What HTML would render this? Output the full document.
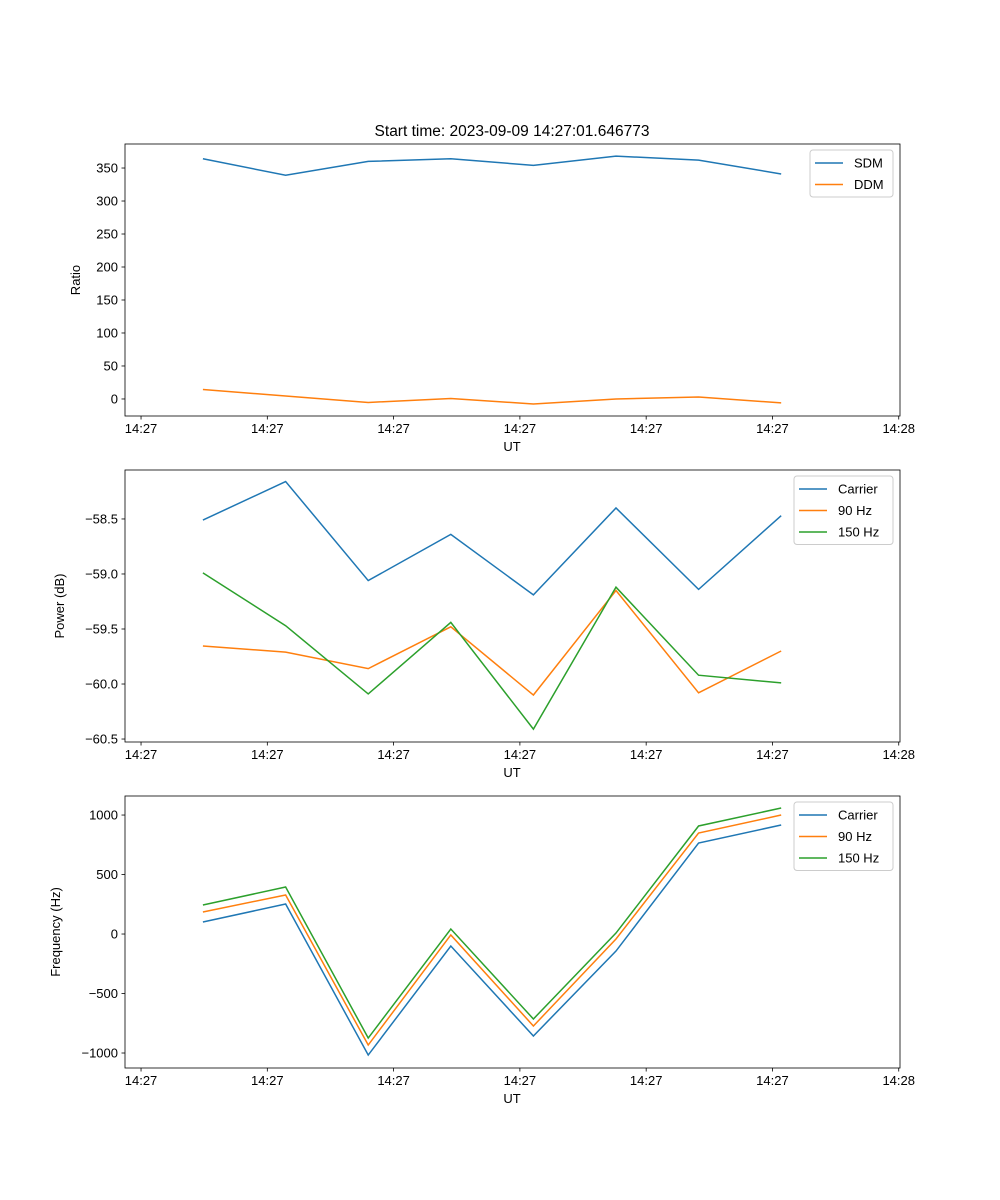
<!DOCTYPE html>
<html><head><meta charset="utf-8"><style>
body{margin:0;background:#fff}
svg{display:block;font-family:"Liberation Sans","DejaVu Sans",sans-serif}
</style></head><body>
<svg id="c" width="1000" height="1200" viewBox="0 0 1000 1200">
<rect width="1000" height="1200" fill="#fff"/>
<text x="512" y="136" font-size="15.5" text-anchor="middle">Start time: 2023-09-09 14:27:01.646773</text>
</svg>
<script>
// time offsets (s after 14:27:00)
const times=[4.9,11.45,17.99,24.53,31.07,37.61,44.15,50.69];
const xTickVals=[0,10,20,30,40,50,60];
const xTickLabels=["14:27","14:27","14:27","14:27","14:27","14:27","14:28"];
const sdm=[364,339,360,364,354,368,362,341];
const ddm=[14.4,4.5,-5.3,0.8,-7.6,0,3,-6];
const ratioTicks=[0,50,100,150,200,250,300,350];
const pCarrier=[-58.51,-58.16,-59.06,-58.64,-59.19,-58.40,-59.14,-58.47];
const p90=[-59.655,-59.71,-59.86,-59.48,-60.10,-59.15,-60.08,-59.70];
const p150=[-58.99,-59.47,-60.09,-59.44,-60.41,-59.12,-59.92,-59.99];
const powerTicks=[-58.5,-59.0,-59.5,-60.0,-60.5];
const fCarrier=[101,252,-1017,-101,-857,-143,765,916];
const f90=[185,328,-933,-8,-773,-42,849,1000];
const f150=[244,395,-874,42,-714,8,908,1059];
const freqTicks=[1000,500,0,-500,-1000];

const svg=document.getElementById('c');
const NS='http://www.w3.org/2000/svg';
function mk(t,a){const e=document.createElementNS(NS,t);for(const k in a)e.setAttribute(k,a[k]);svg.appendChild(e);return e;}
const L=125,R=900,xmin=-1.27,xmax=60.1;
const xs=v=>L+(v-xmin)/(xmax-xmin)*(R-L);
const C=['#1f77b4','#ff7f0e','#2ca02c'];
function panel(p,top,bot,ymin,ymax,ticks,fmt,ylabel,series,names,leg,lw){
  const ys=v=>bot-(v-ymin)/(ymax-ymin)*(bot-top);
  series.forEach((s,k)=>{
    const l=mk('polyline',{points:s.map((v,i)=>xs(times[i])+','+ys(v)).join(' '),fill:'none',stroke:C[k],'stroke-width':1.5});
    
    
  });
  const f=mk('rect',{x:L,y:top,width:R-L,height:bot-top,fill:'none',stroke:'#000','stroke-width':0.8});
  
  
  xTickVals.forEach((v,i)=>{
    const x=xs(v);
    mk('line',{x1:x,x2:x,y1:bot,y2:bot+3.5,stroke:'#000','stroke-width':0.8});
    const t=mk('text',{x:x,y:bot+17,'font-size':13,'text-anchor':'middle'});t.textContent=xTickLabels[i];
    
    
  });
  ticks.forEach(v=>{
    const y=ys(v);
    mk('line',{x1:L-3.5,x2:L,y1:y,y2:y,stroke:'#000','stroke-width':0.8});
    const t=mk('text',{x:L-7,y:y+4.5,'font-size':13,'text-anchor':'end'});t.textContent=fmt(v);
    
    
  });
  const xl=mk('text',{x:512,y:bot+35,'font-size':13,'text-anchor':'middle'});xl.textContent='UT';
  
  
  const yx=leg.yx, yy=(top+bot)/2;
  const yl=mk('text',{x:yx,y:yy,'font-size':13,'text-anchor':'middle',transform:`rotate(-90 ${yx} ${yy})`});yl.textContent=ylabel;
  
  
  const lb=mk('rect',{x:leg.x,y:top+6,width:893-leg.x,height:names.length*21.5+4,rx:3,fill:'#fff',stroke:'#ccc','stroke-width':1});
  
  
  names.forEach((n,k)=>{
    const y=top+6+13+k*21.5;
    mk('line',{x1:leg.x+5,x2:leg.x+33,y1:y,y2:y,stroke:C[k],'stroke-width':1.5});
    const t=mk('text',{x:leg.x+44,y:y+4.5,'font-size':13});t.textContent=n;
    
    
  });
}
panel('ratio',144,416,-25.8,386.4,ratioTicks,v=>String(v),'Ratio',[sdm,ddm],['SDM','DDM'],{x:810,yx:80});
panel('power',470,742,-60.527,-58.055,powerTicks,v=>(v<0?'\u2212':'')+Math.abs(v).toFixed(1),'Power (dB)',[pCarrier,p90,p150],['Carrier','90 Hz','150 Hz'],{x:794,yx:64});
panel('freq',796,1068,-1126,1160,freqTicks,v=>(v<0?'\u2212':'')+Math.abs(v),'Frequency (Hz)',[fCarrier,f90,f150],['Carrier','90 Hz','150 Hz'],{x:794,yx:60});
</script>
</body></html>
